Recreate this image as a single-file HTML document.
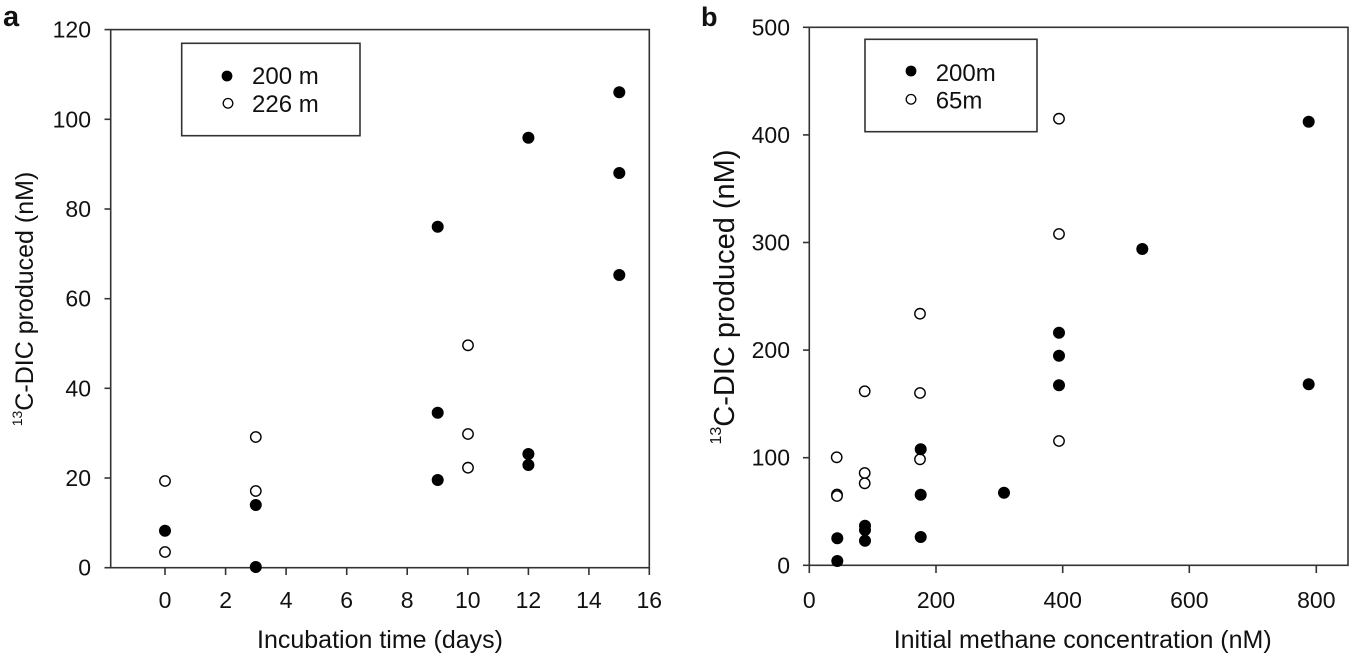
<!DOCTYPE html>
<html>
<head>
<meta charset="utf-8">
<style>
  html, body { margin:0; padding:0; background:#fff; }
  svg { display:block; }
  text { font-family: "Liberation Sans", Arial, sans-serif; fill:#111; }
</style>
</head>
<body>
<svg width="1352" height="657" viewBox="0 0 1352 657" xmlns="http://www.w3.org/2000/svg">
  <rect width="1352" height="657" fill="#fff"/>

  <!-- ================= PANEL A ================= -->
  <text x="3" y="26" font-size="29" font-weight="bold">a</text>

  <g stroke="#333" stroke-width="1.6" fill="none">
    <rect x="110.7" y="29.6" width="538.6" height="538.1"/>
    <line x1="104.5" y1="567.7" x2="110.7" y2="567.7"/>
    <line x1="104.5" y1="478" x2="110.7" y2="478"/>
    <line x1="104.5" y1="388.3" x2="110.7" y2="388.3"/>
    <line x1="104.5" y1="298.7" x2="110.7" y2="298.7"/>
    <line x1="104.5" y1="209" x2="110.7" y2="209"/>
    <line x1="104.5" y1="119.3" x2="110.7" y2="119.3"/>
    <line x1="104.5" y1="29.6" x2="110.7" y2="29.6"/>
    <line x1="165" y1="567.7" x2="165" y2="575"/>
    <line x1="225.6" y1="567.7" x2="225.6" y2="575"/>
    <line x1="286.1" y1="567.7" x2="286.1" y2="575"/>
    <line x1="346.7" y1="567.7" x2="346.7" y2="575"/>
    <line x1="407.2" y1="567.7" x2="407.2" y2="575"/>
    <line x1="467.8" y1="567.7" x2="467.8" y2="575"/>
    <line x1="528.4" y1="567.7" x2="528.4" y2="575"/>
    <line x1="588.9" y1="567.7" x2="588.9" y2="575"/>
    <line x1="649.3" y1="567.7" x2="649.3" y2="575"/>
  </g>

  <g font-size="23" text-anchor="end">
    <text x="91" y="575.7">0</text>
    <text x="91" y="486">20</text>
    <text x="91" y="396.3">40</text>
    <text x="91" y="306.7">60</text>
    <text x="91" y="217">80</text>
    <text x="91" y="127.3">100</text>
    <text x="91" y="37.6">120</text>
  </g>
  <g font-size="23" text-anchor="middle">
    <text x="165" y="608">0</text>
    <text x="225.6" y="608">2</text>
    <text x="286.1" y="608">4</text>
    <text x="346.7" y="608">6</text>
    <text x="407.2" y="608">8</text>
    <text x="467.8" y="608">10</text>
    <text x="528.4" y="608">12</text>
    <text x="588.9" y="608">14</text>
    <text x="649.3" y="608">16</text>
  </g>
  <text x="380" y="648" font-size="25" text-anchor="middle">Incubation time (days)</text>
  <text transform="translate(33,299) rotate(-90)" font-size="25" text-anchor="middle"><tspan font-size="14" dy="-11">13</tspan><tspan dy="11">C-DIC produced (nM)</tspan></text>

  <!-- legend a -->
  <rect x="181.7" y="43.3" width="178.3" height="92.4" fill="#fff" stroke="#333" stroke-width="1.6"/>
  <circle cx="227" cy="76" r="5.4" fill="#000"/>
  <circle cx="228" cy="103.3" r="4.8" fill="#fff" stroke="#000" stroke-width="1.3"/>
  <text x="252" y="84" font-size="24">200 m</text>
  <text x="252" y="112" font-size="24">226 m</text>

  <g fill="#000">
    <circle cx="165" cy="530.7" r="6"/>
    <circle cx="255.8" cy="505" r="6"/>
    <circle cx="255.8" cy="567" r="6"/>
    <circle cx="437.7" cy="226.7" r="6"/>
    <circle cx="437.7" cy="412.7" r="6"/>
    <circle cx="437.7" cy="480" r="6"/>
    <circle cx="528.4" cy="137.7" r="6"/>
    <circle cx="528.4" cy="454" r="6"/>
    <circle cx="528.4" cy="465" r="6"/>
    <circle cx="619.3" cy="92.3" r="6"/>
    <circle cx="619.3" cy="173" r="6"/>
    <circle cx="619.3" cy="275" r="6"/>
  </g>
  <g fill="#fff" stroke="#000" stroke-width="1.4">
    <circle cx="165" cy="481" r="5.2"/>
    <circle cx="165" cy="552" r="5.2"/>
    <circle cx="255.8" cy="437" r="5.2"/>
    <circle cx="255.8" cy="491" r="5.2"/>
    <circle cx="468" cy="345.3" r="5.2"/>
    <circle cx="468" cy="434" r="5.2"/>
    <circle cx="468" cy="467.7" r="5.2"/>
  </g>

  <!-- ================= PANEL B ================= -->
  <text x="701" y="26" font-size="27" font-weight="bold">b</text>

  <g stroke="#333" stroke-width="1.6" fill="none">
    <rect x="809.3" y="27.3" width="538.7" height="538"/>
    <line x1="803" y1="565.3" x2="809.3" y2="565.3"/>
    <line x1="803" y1="457.7" x2="809.3" y2="457.7"/>
    <line x1="803" y1="350.1" x2="809.3" y2="350.1"/>
    <line x1="803" y1="242.5" x2="809.3" y2="242.5"/>
    <line x1="803" y1="134.9" x2="809.3" y2="134.9"/>
    <line x1="803" y1="27.3" x2="809.3" y2="27.3"/>
    <line x1="809.3" y1="565.3" x2="809.3" y2="573"/>
    <line x1="936" y1="565.3" x2="936" y2="573"/>
    <line x1="1062.7" y1="565.3" x2="1062.7" y2="573"/>
    <line x1="1189.3" y1="565.3" x2="1189.3" y2="573"/>
    <line x1="1316.3" y1="565.3" x2="1316.3" y2="573"/>
  </g>

  <g font-size="23" text-anchor="end">
    <text x="790" y="573.3">0</text>
    <text x="790" y="465.7">100</text>
    <text x="790" y="358.1">200</text>
    <text x="790" y="250.5">300</text>
    <text x="790" y="142.9">400</text>
    <text x="790" y="35.3">500</text>
  </g>
  <g font-size="23" text-anchor="middle">
    <text x="809.3" y="608">0</text>
    <text x="936" y="608">200</text>
    <text x="1062.7" y="608">400</text>
    <text x="1189.3" y="608">600</text>
    <text x="1316.3" y="608">800</text>
  </g>
  <text x="1082.7" y="648" font-size="25" text-anchor="middle">Initial methane concentration (nM)</text>
  <text transform="translate(734,297) rotate(-90)" font-size="29" text-anchor="middle"><tspan font-size="16" dy="-13">13</tspan><tspan dy="13">C-DIC produced (nM)</tspan></text>

  <!-- legend b -->
  <rect x="865" y="39.3" width="172" height="92.4" fill="#fff" stroke="#333" stroke-width="1.6"/>
  <circle cx="911" cy="71" r="5.4" fill="#000"/>
  <circle cx="911" cy="99.3" r="4.8" fill="#fff" stroke="#000" stroke-width="1.3"/>
  <text x="935.7" y="81" font-size="24">200m</text>
  <text x="935.7" y="108.3" font-size="24">65m</text>

  <g fill="#fff" stroke="#000" stroke-width="1.4">
    <circle cx="837" cy="494.5" r="5.2"/>
    <circle cx="837" cy="496" r="5.2"/>
    <circle cx="836.7" cy="457.3" r="5.2"/>
    <circle cx="864.7" cy="391.3" r="5.2"/>
    <circle cx="864.7" cy="473" r="5.2"/>
    <circle cx="864.7" cy="483.3" r="5.2"/>
    <circle cx="920" cy="313.7" r="5.2"/>
    <circle cx="920" cy="393" r="5.2"/>
    <circle cx="920" cy="459.3" r="5.2"/>
    <circle cx="1059" cy="118.7" r="5.2"/>
    <circle cx="1059" cy="234" r="5.2"/>
    <circle cx="1059" cy="441" r="5.2"/>
  </g>
  <g fill="#000">
    <circle cx="837.3" cy="538.3" r="6"/>
    <circle cx="837.3" cy="561" r="6"/>
    <circle cx="865" cy="525.7" r="6"/>
    <circle cx="865" cy="530" r="6"/>
    <circle cx="865" cy="540.7" r="6"/>
    <circle cx="920.7" cy="449.3" r="6"/>
    <circle cx="920.7" cy="494.7" r="6"/>
    <circle cx="920.7" cy="537" r="6"/>
    <circle cx="1004" cy="492.7" r="6"/>
    <circle cx="1059" cy="332.7" r="6"/>
    <circle cx="1059" cy="355.7" r="6"/>
    <circle cx="1059" cy="385.3" r="6"/>
    <circle cx="1142.3" cy="249" r="6"/>
    <circle cx="1308.7" cy="121.7" r="6"/>
    <circle cx="1308.7" cy="384.3" r="6"/>
  </g>
</svg>
</body>
</html>
